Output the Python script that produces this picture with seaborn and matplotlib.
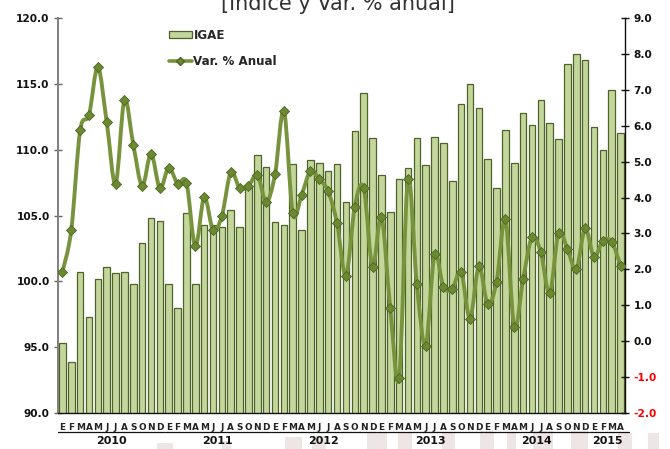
import numpy as np
import pandas as pd
import matplotlib
matplotlib.use("Agg")
import matplotlib.pyplot as plt
import seaborn as sns
from matplotlib.path import Path
from matplotlib.patches import PathPatch, Patch, Rectangle
from matplotlib.lines import Line2D
import matplotlib.transforms as mtransforms

# ---------------- data ----------------
years = ["2010", "2011", "2012", "2013", "2014", "2015"]
month_letters = ["E", "F", "M", "A", "M", "J", "J", "A", "S", "O", "N", "D"]
months_per_year = [12, 12, 12, 12, 12, 4]

igae = [95.3, 93.9, 100.7, 97.3, 100.2, 101.1, 100.6, 100.7, 99.8, 102.9, 104.8, 104.6,
        99.8, 98.0, 105.2, 99.8, 104.3, 104.3, 104.1, 105.4, 104.1, 107.2, 109.6, 108.7,
        104.5, 104.3, 108.9, 103.9, 109.2, 109.0, 108.4, 108.9, 106.0, 111.4, 114.3, 110.9,
        108.1, 105.3, 107.8, 108.6, 110.9, 108.8, 111.0, 110.5, 107.6, 113.5, 115.0, 113.2,
        109.3, 107.1, 111.5, 109.0, 112.8, 111.9, 113.8, 112.0, 110.8, 116.5, 117.3, 116.8,
        111.7, 110.0, 114.5, 111.3]

var_anual = [1.93, 3.10, 5.87, 6.30, 7.63, 6.10, 4.38, 6.72, 5.47, 4.32, 5.22, 4.26,
             4.83, 4.39, 4.41, 2.64, 4.01, 3.10, 3.49, 4.70, 4.27, 4.32, 4.64, 3.88,
             4.65, 6.42, 3.56, 4.08, 4.74, 4.51, 4.17, 3.28, 1.82, 3.75, 4.27, 2.07,
             3.46, 0.93, -1.02, 4.51, 1.59, -0.13, 2.42, 1.51, 1.46, 1.93, 0.63, 2.08,
             1.04, 1.65, 3.39, 0.39, 1.73, 2.89, 2.47, 1.33, 3.02, 2.57, 2.00, 3.14,
             2.34, 2.80, 2.77, 2.10]

left_ticks = [90, 95, 100, 105, 110, 115, 120]
right_ticks = [-2, -1, 0, 1, 2, 3, 4, 5, 6, 7, 8, 9]

month_labels = []
for n in months_per_year:
    month_labels += month_letters[:n]
n_bars = len(igae)
df = pd.DataFrame({"idx": np.arange(n_bars), "igae": igae, "var": var_anual,
                   "mes": month_labels})

# ---------------- style ----------------
sns.set_style("white")
plt.rcParams["font.family"] = ["DejaVu Sans"]

BAR_FACE = "#c3d69b"
BAR_EDGE = "#4f6228"
LINE_COL = "#77933c"
MARK_COL = "#6a8a2e"

W, H = 670, 449
fig = plt.figure(figsize=(W / 100, H / 100), dpi=100)
fig.patch.set_facecolor("white")

# faint background blocks at the bottom (watermark)
blocks = [(157, 16, 443), (222, 9, 441), (285, 17, 437), (312, 14, 436),
          (367, 20, 433), (398, 14, 432), (442, 13, 432), (480, 14, 431),
          (507, 9, 432), (533, 20, 431), (571, 17, 431), (618, 14, 433), (648, 11, 433)]
for x0, w, ytop in blocks:
    fig.patches.append(Rectangle((x0 / W, 0), w / W, (H - ytop) / H,
                                 transform=fig.transFigure, facecolor="#eee5e5",
                                 edgecolor="none", zorder=-5))

ax = fig.add_axes([58 / W, 1 - 413 / H, (625 - 58) / W, 395 / H])
ax.set_facecolor("none")

sns.barplot(data=df, x="idx", y="igae", ax=ax, color=BAR_FACE, saturation=1,
            width=0.74, edgecolor=BAR_EDGE, linewidth=0.9, errorbar=None)
ax.set_ylim(90, 120)
ax.set_xlim(-0.5, n_bars - 0.5)
ax.set_xlabel("")
ax.set_ylabel("")

# left axis
ax.set_yticks(left_ticks)
ax.set_yticklabels([f"{v:.1f}" for v in left_ticks], fontsize=7.6,
                   fontweight="bold", color="#111111")
ax.tick_params(axis="y", direction="inout", length=6, width=1, color="#666666", pad=3)

# x axis: month letters at bar centres, tick marks at boundaries
ax.set_xticks(np.arange(n_bars))
ax.set_xticklabels(month_labels, fontsize=6.4, fontweight="bold", color="#222222")
ax.tick_params(axis="x", which="major", length=0, pad=7)
ax.set_xticks(np.arange(-0.5, n_bars, 1.0), minor=True)
ax.tick_params(axis="x", which="minor", direction="inout", length=5, width=0.8,
               color="#222222")

for s in ["top", "right"]:
    ax.spines[s].set_visible(False)
ax.spines["left"].set_color("#7f7f7f")
ax.spines["left"].set_linewidth(1.4)
ax.spines["bottom"].set_color("#111111")
ax.spines["bottom"].set_linewidth(1.0)

# year underlines + year labels
trans = mtransforms.blended_transform_factory(ax.transData, ax.transAxes)
start = 0
for yr, n in zip(years, months_per_year):
    end = start + n - 1
    x_end = end + 0.45 if n == 12 else end + 0.95
    ax.plot([start - 0.45, x_end], [-0.049, -0.049], transform=trans,
            color="#111111", lw=0.9, clip_on=False)
    ax.text((start + end) / 2, -0.072, yr, transform=trans, ha="center", va="center",
            fontsize=7.9, fontweight="bold", color="#111111")
    start += n

# ---------------- right axis: smoothed line ----------------
ax2 = ax.twinx()
ax2.set_ylim(-2, 9)
ax2.set_xlim(-0.5, n_bars - 0.5)

xs = df["idx"].to_numpy(dtype=float)
ys = df["var"].to_numpy(dtype=float)
verts = [(xs[0], ys[0])]
codes = [Path.MOVETO]
for i in range(n_bars - 1):
    p0 = np.array([xs[max(i - 1, 0)], ys[max(i - 1, 0)]])
    p1 = np.array([xs[i], ys[i]])
    p2 = np.array([xs[i + 1], ys[i + 1]])
    p3 = np.array([xs[min(i + 2, n_bars - 1)], ys[min(i + 2, n_bars - 1)]])
    c1 = p1 + (p2 - p0) / 6.0
    c2 = p2 - (p3 - p1) / 6.0
    verts += [tuple(c1), tuple(c2), tuple(p2)]
    codes += [Path.CURVE4] * 3
ax2.add_patch(PathPatch(Path(verts, codes), facecolor="none", edgecolor=LINE_COL,
                        lw=2.8, capstyle="round", joinstyle="round", zorder=3))

sns.scatterplot(data=df, x="idx", y="var", ax=ax2, marker="D", s=26,
                color=MARK_COL, edgecolor="#4f6228", linewidth=0.6, zorder=4,
                legend=False)
ax2.set_xlabel("")
ax2.set_ylabel("")

ax2.set_yticks(right_ticks)
ax2.set_yticklabels([f"{v:.1f}" for v in right_ticks], fontsize=7.6, fontweight="bold")
for lab, v in zip(ax2.get_yticklabels(), right_ticks):
    lab.set_color("#ff0000" if v < 0 else "#111111")
ax2.tick_params(axis="y", direction="inout", length=6, width=1, color="#111111", pad=3)
for s in ["top", "left", "bottom"]:
    ax2.spines[s].set_visible(False)
ax2.spines["right"].set_color("#111111")
ax2.spines["right"].set_linewidth(1.0)

# ---------------- legend ----------------
handles = [Patch(facecolor=BAR_FACE, edgecolor=BAR_EDGE, linewidth=0.9),
           Line2D([], [], color=LINE_COL, lw=2.6, marker="D", markersize=4.2,
                  markerfacecolor=MARK_COL, markeredgecolor="#4f6228")]
fig.legend(handles, ["IGAE", "Var. % Anual"], loc="upper left",
           bbox_to_anchor=(169 / W, 1 - 29 / H), frameon=False,
           prop={"size": 8.6, "weight": "bold"}, handlelength=1.9, handleheight=0.55,
           handletextpad=0.15, labelspacing=1.05, borderpad=0, borderaxespad=0)

# ---------------- title (clipped at the top) ----------------
fig.text(338 / W, 1 - 10 / H, "[Índice y Var. % anual]", ha="center", va="baseline",
         fontsize=15, color="#333333")

fig.savefig("out.png", dpi=100)
